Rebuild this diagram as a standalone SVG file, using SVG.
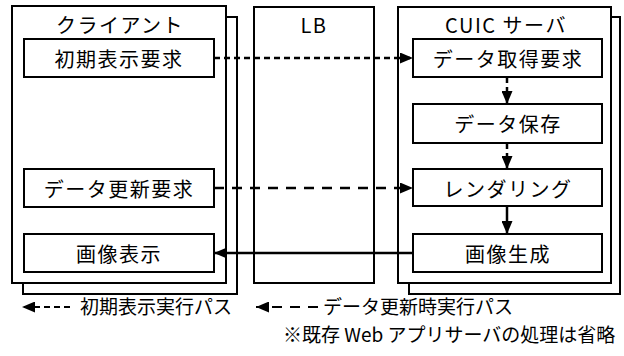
<svg xmlns="http://www.w3.org/2000/svg" width="624" height="356" viewBox="0 0 624 356">
<style>
.box{fill:#fff;stroke:#000;stroke-width:2}
.t{font-family:"Noto Sans CJK JP","Noto Sans",sans-serif;font-size:20px;letter-spacing:1.5px;fill:#000;text-anchor:middle;dominant-baseline:central}
.lg{font-family:"Noto Sans CJK JP","Noto Sans",sans-serif;font-size:19px;fill:#000}
.c{fill:none;stroke:#000;stroke-width:2.5}
.d1{stroke-dasharray:6 4}
.d2{stroke-dasharray:10 8}
</style>
<defs>
<marker id="ah" markerUnits="userSpaceOnUse" markerWidth="14" markerHeight="11" refX="13" refY="5.5" orient="auto">
<path d="M0,0 L13,5.5 L0,11 z" fill="#000"/>
</marker>
</defs>
<g id="client">
<rect class="box" x="23" y="17" width="214" height="277"/>
<rect class="box" x="12" y="6" width="214" height="277"/>
<text class="t" x="120" y="24">クライアント</text>
</g>
<g id="lb">
<rect class="box" x="254" y="7" width="120" height="276"/>
<text class="t" x="314" y="24">LB</text>
</g>
<g id="server">
<rect class="box" x="409" y="17" width="211" height="277"/>
<rect class="box" x="398" y="7" width="213" height="276"/>
<text class="t" x="506" y="24">CUIC サーバ</text>
</g>
<g id="n-init-req">
<rect class="box" x="24" y="39" width="190" height="38"/>
<text class="t" x="119" y="58">初期表示要求</text>
</g>
<g id="n-update-req">
<rect class="box" x="24" y="169" width="190" height="38"/>
<text class="t" x="119" y="188">データ更新要求</text>
</g>
<g id="n-display">
<rect class="box" x="24" y="234" width="190" height="38"/>
<text class="t" x="119" y="253">画像表示</text>
</g>
<g id="n-fetch">
<rect class="box" x="413" y="39" width="189" height="38"/>
<text class="t" x="508" y="58">データ取得要求</text>
</g>
<g id="n-save">
<rect class="box" x="413" y="104" width="189" height="39"/>
<text class="t" x="508" y="123.5">データ保存</text>
</g>
<g id="n-render">
<rect class="box" x="413" y="169" width="189" height="37"/>
<text class="t" x="508" y="188">レンダリング</text>
</g>
<g id="n-gen">
<rect class="box" x="413" y="234" width="189" height="38"/>
<text class="t" x="508" y="253">画像生成</text>
</g>
<g id="connectors">
<line class="c d1" x1="214" y1="58" x2="413" y2="58" marker-end="url(#ah)"/>
<line class="c d1" x1="507" y1="77" x2="507" y2="104" marker-end="url(#ah)"/>
<line class="c d1" x1="507" y1="143" x2="507" y2="169" marker-end="url(#ah)"/>
<line class="c d2" x1="214" y1="188" x2="413" y2="188" marker-end="url(#ah)"/>
<line class="c" x1="507" y1="206" x2="507" y2="234" marker-end="url(#ah)"/>
<line class="c" x1="413" y1="253" x2="214" y2="253" marker-end="url(#ah)"/>
</g>
<g id="legend">
<line class="c d1" x1="70" y1="307" x2="22" y2="307" marker-end="url(#ah)" style="stroke-width:2"/>
<text class="lg" x="80" y="314">初期表示実行パス</text>
<line class="c d2" x1="318" y1="307" x2="256" y2="307" marker-end="url(#ah)" style="stroke-width:2"/>
<text class="lg" x="323" y="314">データ更新時実行パス</text>
<text class="lg" x="283" y="342">※既存 Web アプリサーバの処理は省略</text>
</g>
</svg>
